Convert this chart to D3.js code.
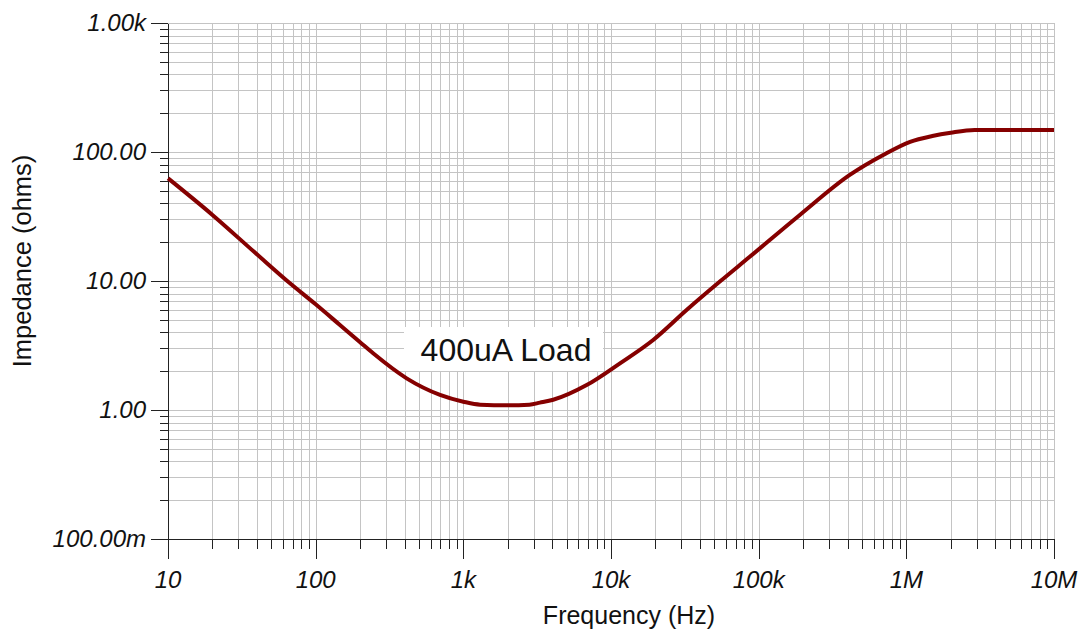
<!DOCTYPE html>
<html>
<head>
<meta charset="utf-8">
<script src="https://cdn.jsdelivr.net/npm/d3@7"></script>
<style>
  body { margin: 0; background: #fff; }
  svg { display: block; font-family: "Liberation Sans", Arial, sans-serif; }
  .grid line { stroke: #c4c4c4; stroke-width: 1; shape-rendering: crispEdges; }
  .axis path, .axis line { stroke: #222; shape-rendering: crispEdges; }
  .tick-label { font-style: italic; font-size: 24px; fill: #111; }
</style>
</head>
<body>
<div id="chart"></div>
<script>
// データ
const freqHz = [10, 20, 40, 67, 100, 146, 200, 245, 413, 695, 1000, 1300, 2000, 2800,
  3300, 4060, 6840, 11500, 19300, 32500, 54600, 87000, 190000, 414000, 697000,
  1060000, 1500000, 2000000, 2900000, 10000000];
const impedance = [62.5, 32.5, 16.1, 9.6, 6.6, 4.56, 3.35, 2.75, 1.76, 1.31, 1.16, 1.10, 1.09, 1.10,
  1.14, 1.20, 1.56, 2.30, 3.49, 5.96, 9.9, 15.4, 32.5, 66.4, 94.8,
  120, 133, 141, 148, 148];

const xMajor = [10, 100, 1e3, 1e4, 1e5, 1e6, 1e7];
const xLabels = ['10', '100', '1k', '10k', '100k', '1M', '10M'];
const yMajor = [0.1, 1, 10, 100, 1000];
const yLabels = ['100.00m', '1.00', '10.00', '100.00', '1.00k'];
const seriesLabel = '400uA Load';

const width = 1091;
const height = 631;

const svg = d3.select('#chart')
  .append('svg')
  .attr('width', width)
  .attr('height', height);

const x = d3.scaleLog().domain([10, 1e7]).range([168, 1054]);
const y = d3.scaleLog().domain([0.1, 1000]).range([539, 23]);

// 補助目盛り (各桁の2〜9倍)
function minorTicks(majors) {
  const out = [];
  majors.slice(0, -1).forEach(m => {
    for (let k = 2; k <= 9; k++) out.push(m * k);
  });
  return out;
}
const xMinor = minorTicks(xMajor);
const yMinor = minorTicks(yMajor);

// グリッド
const grid = svg.append('g').attr('class', 'grid');
grid.selectAll('line.v')
  .data(xMinor.concat(xMajor.slice(1)))
  .enter().append('line')
  .attr('class', 'v')
  .attr('x1', d => Math.round(x(d)) + 0.5)
  .attr('x2', d => Math.round(x(d)) + 0.5)
  .attr('y1', y(1000))
  .attr('y2', y(0.1));
grid.selectAll('line.h')
  .data(yMinor.concat(yMajor.slice(1)))
  .enter().append('line')
  .attr('class', 'h')
  .attr('y1', d => Math.round(y(d)) + 0.5)
  .attr('y2', d => Math.round(y(d)) + 0.5)
  .attr('x1', x(10))
  .attr('x2', x(1e7));

// 軸
const xAxisG = svg.append('g').attr('class', 'axis')
  .attr('transform', `translate(0,${y(0.1)})`);
xAxisG.call(d3.axisBottom(x).tickValues(xMinor).tickSize(10).tickSizeOuter(0).tickFormat(''));
xAxisG.append('g').call(d3.axisBottom(x).tickValues(xMajor).tickSize(20).tickSizeOuter(0).tickFormat(''))
  .select('.domain').remove();

const yAxisG = svg.append('g').attr('class', 'axis')
  .attr('transform', `translate(${x(10)},0)`);
yAxisG.call(d3.axisLeft(y).tickValues(yMinor).tickSize(8).tickSizeOuter(0).tickFormat(''));
yAxisG.append('g').call(d3.axisLeft(y).tickValues(yMajor).tickSize(17).tickSizeOuter(0).tickFormat(''))
  .select('.domain').remove();

// 目盛りラベル
svg.selectAll('text.xt')
  .data(xMajor)
  .enter().append('text')
  .attr('class', 'tick-label xt')
  .attr('x', d => x(d))
  .attr('y', 588)
  .attr('text-anchor', 'middle')
  .text((d, i) => xLabels[i]);

svg.selectAll('text.yt')
  .data(yMajor)
  .enter().append('text')
  .attr('class', 'tick-label yt')
  .attr('x', 146)
  .attr('y', d => y(d))
  .attr('dy', '0.35em')
  .attr('text-anchor', 'end')
  .text((d, i) => yLabels[i]);

// 軸タイトル
svg.append('text')
  .attr('x', 629)
  .attr('y', 624)
  .attr('text-anchor', 'middle')
  .style('font-size', '25px')
  .attr('fill', '#111')
  .text('Frequency (Hz)');

svg.append('text')
  .attr('transform', 'translate(31,261) rotate(-90)')
  .attr('text-anchor', 'middle')
  .style('font-size', '25.5px')
  .attr('fill', '#111')
  .text('Impedance (ohms)');

// 曲線
const line = d3.line()
  .x((d, i) => x(freqHz[i]))
  .y(d => y(d))
  .curve(d3.curveMonotoneX);

svg.append('path')
  .datum(impedance)
  .attr('fill', 'none')
  .attr('stroke', '#850000')
  .attr('stroke-width', 4)
  .attr('d', line);

// 系列ラベル
const lbl = svg.append('g');
lbl.append('rect')
  .attr('x', 404)
  .attr('y', 327)
  .attr('width', 199)
  .attr('height', 44)
  .attr('fill', '#fff');
lbl.append('text')
  .attr('x', 506)
  .attr('y', 361)
  .attr('text-anchor', 'middle')
  .style('font-size', '32px')
  .attr('fill', '#111')
  .text(seriesLabel);
</script>
</body>
</html>
